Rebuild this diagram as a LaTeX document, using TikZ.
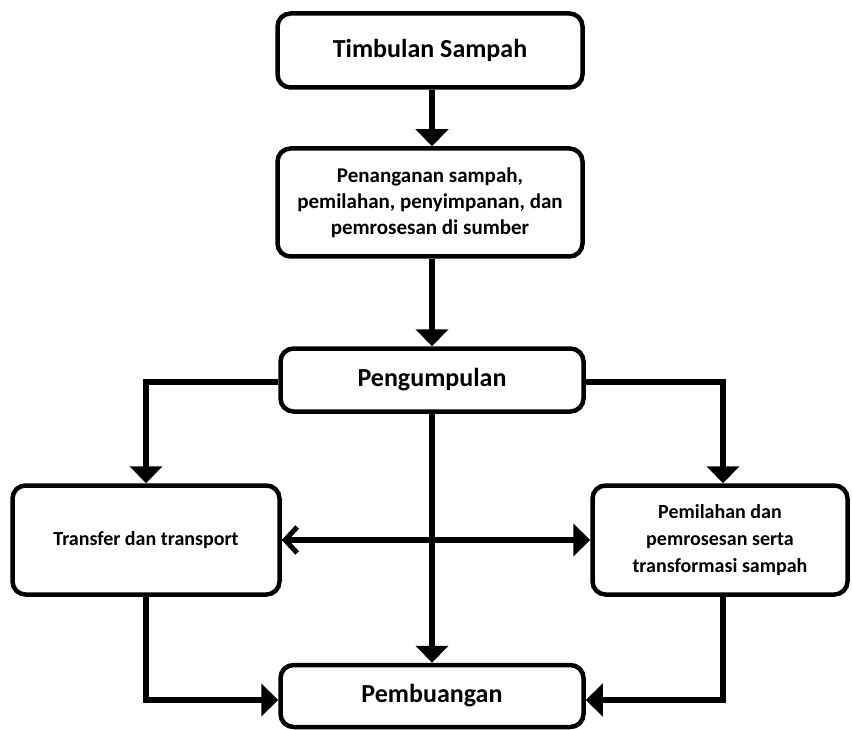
\documentclass[tikz,border=0pt]{standalone}
\usepackage{fontspec}
\setmainfont{Carlito}
\usetikzlibrary{arrows.meta}
\tikzset{
  box/.style={draw=black, line width=4.5pt, rounded corners=13pt, inner sep=0pt, align=center, font=\bfseries},
  conn/.style={line width=6pt, draw=black, -{Triangle[length=17pt,width=32pt]}},
  big/.style={font=\bfseries\fontsize{26}{30}\selectfont},
  mid/.style={font=\bfseries\fontsize{21}{26}\selectfont},
  small/.style={font=\bfseries\fontsize{20}{27}\selectfont},
}
\begin{document}
\begin{tikzpicture}[x=1pt,y=-1pt]
\useasboundingbox (0,0) rectangle (852,730);
\node[box,big,minimum width=305pt,minimum height=74pt] (n1) at (430,50.5) {Timbulan Sampah};
\node[box,mid,minimum width=305pt,minimum height=108pt] (n2) at (430,202.5) {Penanganan sampah,\\pemilahan, penyimpanan, dan\\pemrosesan di sumber};
\node[box,big,minimum width=303pt,minimum height=63pt] (n3) at (432,380) {Pengumpulan};
\node[box,small,minimum width=267pt,minimum height=109pt] (n4) at (146,540) {Transfer dan transport};
\node[box,small,minimum width=255pt,minimum height=109pt] (n5) at (720,540) {Pemilahan dan\\pemrosesan serta\\transformasi sampah};
\node[box,big,minimum width=303pt,minimum height=62pt] (n6) at (432,696) {Pembuangan};
\coordinate (lc) at (146,382);
\coordinate (rc) at (723,382);
\coordinate (lb) at (146,700);
\coordinate (rb) at (723,700);
\draw[conn] (n1.south -| 432,0) -- (n2.north -| 432,0);
\draw[conn] (n2.south -| 432,0) -- (n3.north -| 432,0);
\draw[conn] (n3.west |- lc) -- (lc) -- (lc |- n4.north);
\draw[conn] (n3.east |- rc) -- (rc) -- (rc |- n5.north);
\draw[conn] (n3.south) -- (n6.north);
\draw[line width=6pt, {Straight Barb[length=12pt,width=26pt,line width=5pt]}-{Triangle[length=17pt,width=32pt]}] (n4.east) -- (n5.west);
\draw[conn] (lc |- n4.south) -- (lb) -- (n6.west |- lb);
\draw[conn] (rc |- n5.south) -- (rb) -- (n6.east |- rb);
\end{tikzpicture}
\end{document}
